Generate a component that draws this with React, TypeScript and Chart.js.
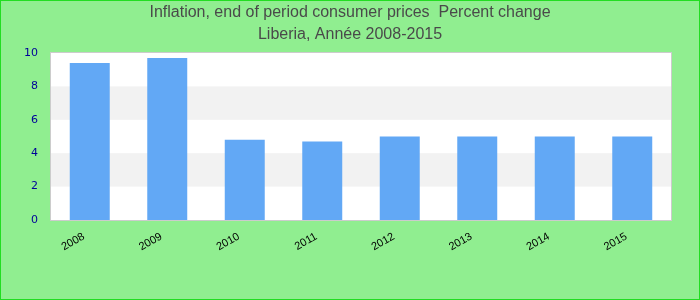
import React, { useEffect, useRef } from "react";
import { Chart, registerables } from "chart.js";

Chart.register(...registerables);

const years = ["2008", "2009", "2010", "2011", "2012", "2013", "2014", "2015"];
const inflation = [9.4, 9.7, 4.8, 4.7, 5.0, 5.0, 5.0, 5.0];
const titleLines = ["Inflation, end of period consumer prices  Percent change", "Liberia, Année 2008-2015"];

const backgroundPlugin = {
  id: "bgBands",
  beforeDraw(chart: any) {
    const { ctx, chartArea, width, height } = chart;
    const y = chart.scales.y;
    ctx.save();
    ctx.fillStyle = "#90ee90";
    ctx.fillRect(0, 0, width, height);
    ctx.fillStyle = "#ffffff";
    ctx.fillRect(chartArea.left, chartArea.top, chartArea.right - chartArea.left, chartArea.bottom - chartArea.top);
    ctx.fillStyle = "#f2f2f2";
    for (const [a, b] of [[2, 4], [6, 8]]) {
      const ya = y.getPixelForValue(a);
      const yb = y.getPixelForValue(b);
      ctx.fillRect(chartArea.left, yb, chartArea.right - chartArea.left, ya - yb);
    }
    ctx.strokeStyle = "#cccccc";
    ctx.lineWidth = 1;
    ctx.strokeRect(chartArea.left - 0.5, chartArea.top - 0.5, chartArea.right - chartArea.left + 1, chartArea.bottom - chartArea.top + 1);
    ctx.strokeStyle = "#22dd22";
    ctx.strokeRect(0.5, 0.5, width - 1, height - 1);
    ctx.fillStyle = "#4a4a4a";
    ctx.font = "16px 'Liberation Sans', Arial";
    ctx.textAlign = "center";
    ctx.textBaseline = "middle";
    titleLines.forEach((t, i) => ctx.fillText(t, width / 2, 13 + i * 22));
    ctx.restore();
  },
};

export default function App() {
  const ref = useRef<HTMLCanvasElement>(null);
  useEffect(() => {
    if (!ref.current) return;
    const chart = new Chart(ref.current, {
      type: "bar",
      data: {
        labels: years,
        datasets: [
          {
            data: inflation,
            backgroundColor: "#62a8f5",
            barPercentage: 0.516,
            categoryPercentage: 1,
          },
        ],
      },
      options: {
        responsive: false,
        animation: false,
        layout: { padding: { left: 0, right: 29, top: 53, bottom: 0 } },
        plugins: {
          legend: { display: false },
          tooltip: { enabled: false },
          title: { display: false },
        },
        scales: {
          x: {
            grid: { display: false, drawTicks: false },
            border: { display: false },
            ticks: {
              color: "#000000",
              font: { family: "Liberation Sans, Arial", size: 11 },
              maxRotation: 30,
              minRotation: 30,
              padding: 10,
              labelOffset: -6,
            },
            afterFit(s: any) {
              s.height = 80;
            },
          },
          y: {
            min: 0,
            max: 10,
            grid: { display: false, drawTicks: false },
            border: { display: false },
            ticks: {
              stepSize: 2,
              color: "#000099",
              font: { family: "DejaVu Sans", size: 11 },
              padding: 13,
            },
            afterFit(s: any) {
              s.width = 51;
            },
          },
        },
      },
      plugins: [backgroundPlugin],
    });
    return () => chart.destroy();
  }, []);
  return (
    <div style={{ position: "fixed", left: 0, top: 0, width: 700, height: 300 }}>
      <canvas ref={ref} width={700} height={300} />
    </div>
  );
}
